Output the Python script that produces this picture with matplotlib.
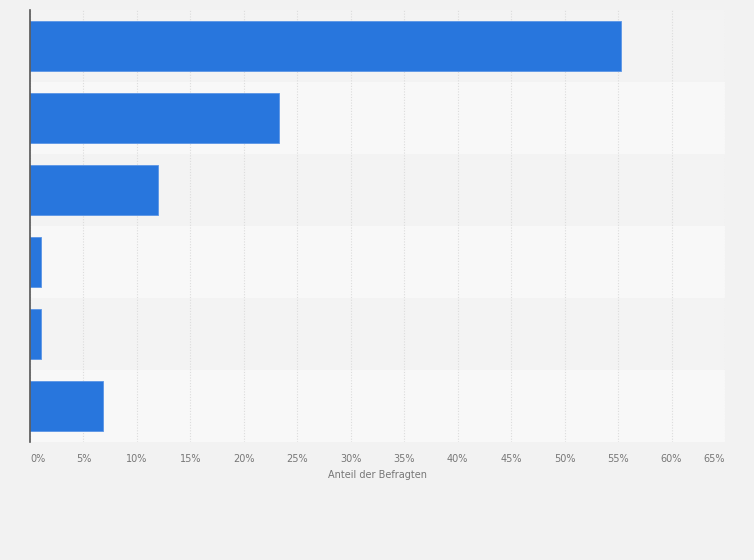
import matplotlib
matplotlib.use("Agg")
import matplotlib.pyplot as plt
import numpy as np

# data (share of respondents, %)
categories = ["A", "B", "C", "D", "E", "F"]
values = [55.3, 23.3, 12.0, 1.0, 1.0, 6.8]
tick_values = list(range(0, 70, 5))
tick_labels = [f"{t}%" for t in tick_values]

bar_color = "#2876dd"
bg_color = "#f2f2f2"
band_dark = "#f3f3f3"
band_light = "#f8f8f8"

fig = plt.figure(figsize=(7.54, 5.6), dpi=100)
fig.patch.set_facecolor(bg_color)
ax = fig.add_axes([30 / 754, 1 - 442 / 560, (725 - 30) / 754, (442 - 10) / 560])
ax.set_facecolor(bg_color)

n = len(categories)
y = np.arange(n)

# alternating row bands
for i in range(n):
    ax.axhspan(i - 0.5, i + 0.5, color=band_dark if i % 2 == 0 else band_light, zorder=0, lw=0)

ax.barh(y, values, height=0.69, color=bar_color, edgecolor="#5b95e6", linewidth=0.6, zorder=3)

ax.set_ylim(n - 0.5, -0.5)
ax.set_xlim(0, 65)
ax.set_yticks([])

ax.set_xticks(tick_values)
ax.set_xticklabels(tick_labels, fontsize=7, color="#777777")
ax.tick_params(axis="x", length=0, pad=9)
labels = ax.get_xticklabels()
labels[0].set_ha("left")
labels[-1].set_ha("right")

ax.grid(axis="x", color="#dcdcdc", linestyle=(0, (1, 1.5)), linewidth=0.8, zorder=1)
ax.set_axisbelow(True)

for side in ["top", "right", "bottom"]:
    ax.spines[side].set_visible(False)
ax.spines["left"].set_color("#555555")
ax.spines["left"].set_linewidth(1.2)
ax.spines["left"].set_zorder(4)

ax.set_xlabel("Anteil der Befragten", fontsize=7, color="#777777", labelpad=4)

fig.savefig("out.png", dpi=100, facecolor=bg_color)
